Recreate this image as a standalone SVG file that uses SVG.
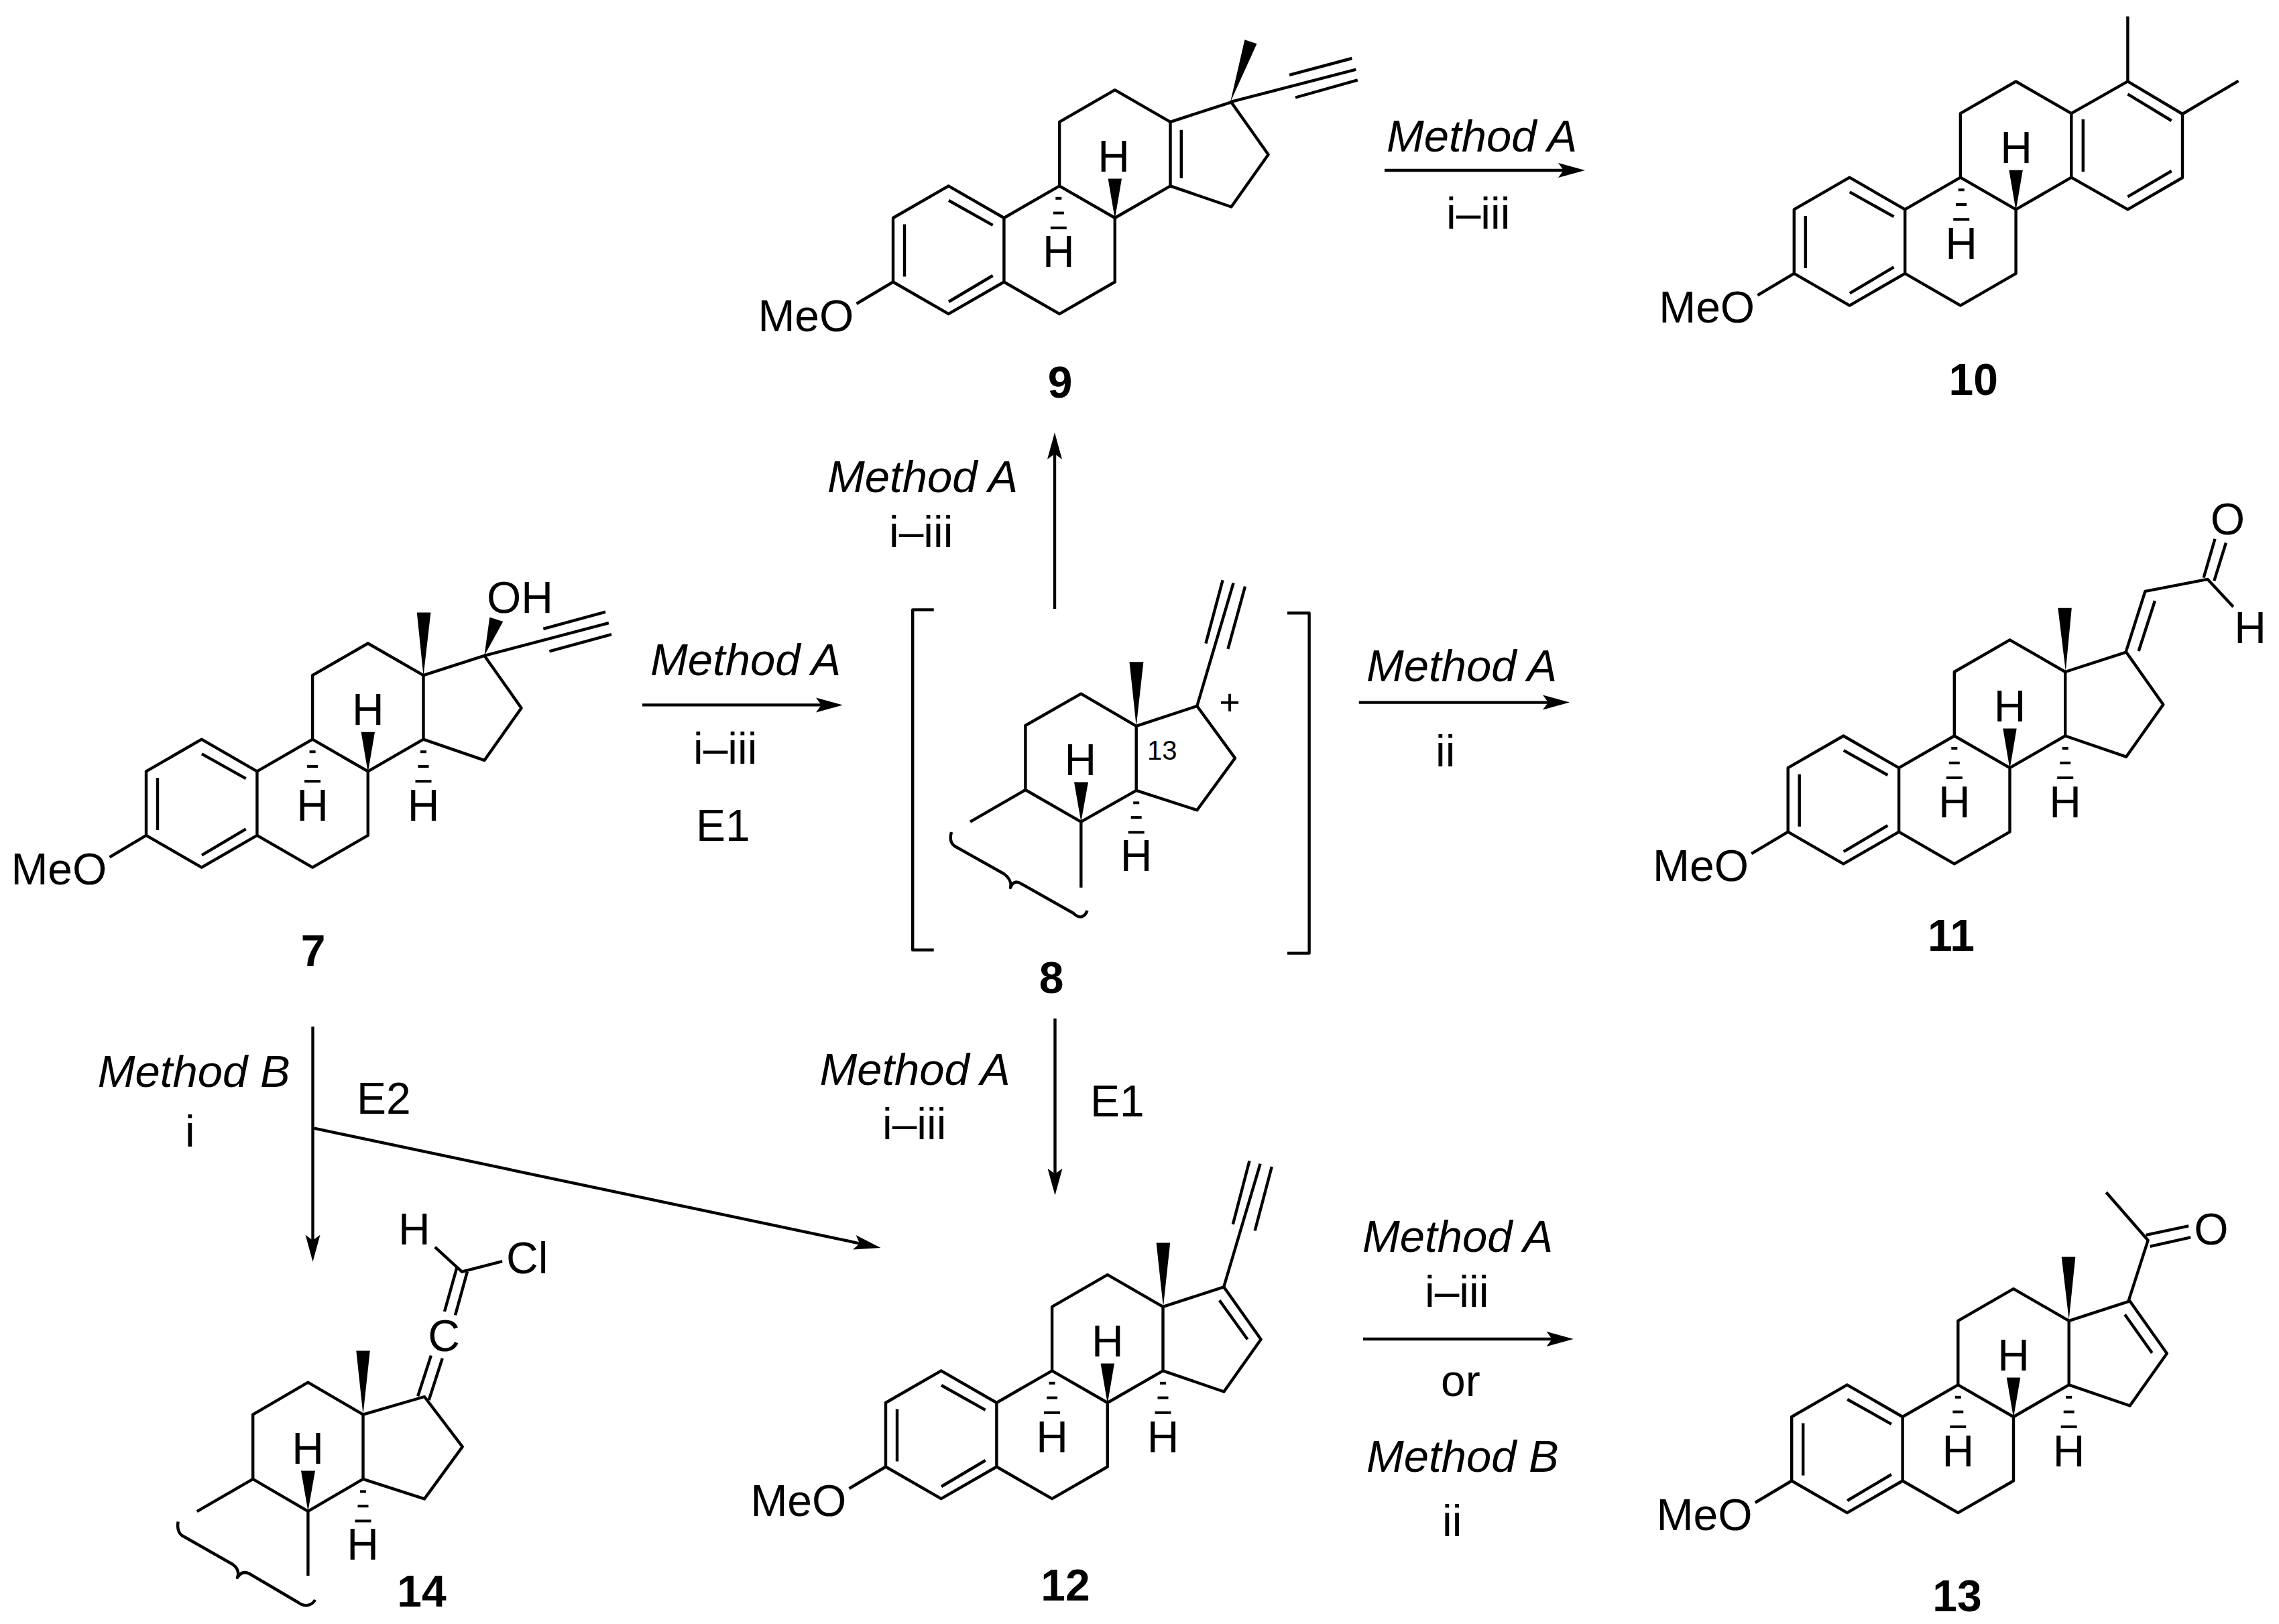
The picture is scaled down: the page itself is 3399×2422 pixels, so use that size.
<svg xmlns="http://www.w3.org/2000/svg" width="3399" height="2422" viewBox="0 0 3399 2422">
<style>
.b{fill:none;stroke:#000;stroke-width:4.4;stroke-linejoin:round}
.k{fill:#000;stroke:none}
.a{fill:none;stroke:#000;stroke-width:4.4}
text{font-family:"Liberation Sans",Arial,sans-serif;font-size:66px;fill:#000}
.m{text-anchor:middle}
.i{font-style:italic;font-size:67px}
.l{font-weight:bold;font-size:66px;text-anchor:middle}
</style>
<defs>
<marker id="head" markerUnits="userSpaceOnUse" markerWidth="46" markerHeight="26" refX="15" refY="13" orient="auto"><path d="M40,13L0,2L8,13L0,24Z" fill="#000"/></marker>
<g id="hash" class="k"><rect x="-4.5" y="16.5" width="9" height="4"/><rect x="-8" y="38.3" width="16" height="4"/><rect x="-12" y="60.5" width="24" height="4"/></g>
<path id="abc" class="b" d="M0,0V95.5L82.7,143.2L165.4,95.5V0L82.7,-47.7ZM165.4,95.5L248.1,143.2L330.8,95.5V0L248.1,-47.7L165.4,0M248.1,-47.7V-143.2L330.8,-190.9L413.5,-143.2V-47.7L330.8,0M0,95.5L-54.5,128M17,9.6V87.6M83,-26L148.7,10.8M83,125L148.7,86"/>
<polygon id="wedgeH" class="k" points="330.8,1.5 320.6,-58.6 341,-58.6"/>
<path id="dring" class="b" d="M413.5,-143.2L504.4,-172.6L559.6,-94.5L504.4,-16.5L413.5,-47.7"/>
</defs>
<g id="compound-7">
<use href="#abc" x="218" y="1150.4"/><use href="#wedgeH" x="218" y="1150.4"/><use href="#dring" x="218" y="1150.4"/>
<use href="#hash" x="466.1" y="1102.7"/><use href="#hash" x="631.5" y="1102.7"/>
<polygon class="k" points="631.5,1008 621.8,913.6 642.4,913.6"/>
<polygon class="k" points="722.4,977.8 730.3,920.6 750.3,927"/>
<path class="b" d="M722.4,977.8L907.9,929.2M810.3,937.9L903,912.7M819.4,971.3L912,946.1"/>
<text x="16.4" y="1319">MeO</text><text x="726" y="913.6">OH</text>
<text class="m" x="548.8" y="1081">H</text><text class="m" x="466.1" y="1224">H</text><text class="m" x="631.5" y="1224">H</text>
<text class="l" x="467" y="1441">7</text>
</g>
<g id="compound-8">
<path class="b" d="M1529.4,1082L1612.3,1034.7L1694.7,1082.9V1178.8L1612.3,1225.7L1529.4,1178ZM1694.7,1082.9L1785.3,1053L1842,1130.6L1785.3,1208.2L1694.7,1178.8M1529.4,1178L1447,1225.7M1612.3,1225.7V1323.7"/>
<path class="b" d="M1785.3,1053L1839.6,869.4M1798.4,959.6L1823.6,865.3M1831.4,967.8L1857,874.7"/>
<polygon class="k" points="1694.7,1082.9 1684.5,987.3 1705.4,987.3"/>
<polygon class="k" points="1612.3,1225.7 1602,1166.5 1623,1166.5"/>
<use href="#hash" x="1694.7" y="1178.8"/>
<path class="b" d="M1419,1241C1416,1252 1418,1258 1424,1262L1497,1303C1505,1309 1509,1315 1507,1324C1510,1316 1515,1313 1523,1318L1601,1362C1610,1371 1618,1368 1621.5,1358"/>
<path class="b" d="M1392.7,909.4H1361.2V1416.7H1392.7M1920,914.3H1952.6V1421.6H1920"/>
<text class="m" x="1611.3" y="1155.5">H</text><text class="m" x="1694.7" y="1299.2">H</text>
<text class="m" x="1834" y="1066" style="font-size:54px">+</text>
<text x="1711" y="1132.7" style="font-size:40px">13</text>
<text class="l" x="1568.2" y="1481">8</text>
</g>
<g id="compound-9">
<use href="#abc" x="1332" y="325"/><use href="#wedgeH" x="1332" y="325"/><use href="#dring" x="1332" y="325"/>
<use href="#hash" x="1578.8" y="277.3"/>
<polygon class="k" points="1835,152.2 1856.4,59.3 1874.5,65.2"/>
<path class="b" d="M1761.8,193.8V265.7M1835,152.2L2022.4,103.6M1923,111.9L2016.4,87M1932,145.5L2024.8,119.4"/>
<text x="1130.4" y="493.6">MeO</text>
<text class="m" x="1661" y="255.6">H</text><text class="m" x="1578.8" y="398">H</text>
<text class="l" x="1581" y="593">9</text>
</g>
<g id="compound-10">
<use href="#abc" x="2675.8" y="312.4"/><use href="#wedgeH" x="2675.8" y="312.4"/>
<use href="#hash" x="2925.2" y="264.7"/>
<path class="b" d="M3089.3,169.2L3173.4,121.4L3255,170V265L3173.4,312.4L3089.3,264.7M3173.4,121.4V24.5M3255,170L3338.6,120.6M3106.8,178V256M3173.4,140.4L3238.7,180M3173.4,293.4L3238.7,255"/>
<text x="2474.2" y="481">MeO</text>
<text class="m" x="3007" y="243">H</text><text class="m" x="2925.2" y="386">H</text>
<text class="l" x="2943.3" y="589">10</text>
</g>
<g id="compound-11">
<use href="#abc" x="2666.7" y="1145.2"/><use href="#wedgeH" x="2666.7" y="1145.2"/><use href="#dring" x="2666.7" y="1145.2"/>
<use href="#hash" x="2914.8" y="1097.5"/><use href="#hash" x="3080.2" y="1097.5"/>
<polygon class="k" points="3080.8,1001 3069.3,906.8 3089.8,906.8"/>
<path class="b" d="M3170.3,973.3L3199.4,881.8L3292.6,863.9L3330.8,905M3189.7,971L3213.9,896M3286.6,861.7L3303.5,803.7M3302.3,866.2L3319.9,809.5"/>
<text x="2465.1" y="1313.8">MeO</text>
<text class="m" x="3322.3" y="797">O</text><text class="m" x="3356" y="959">H</text>
<text class="m" x="2997.5" y="1075.8">H</text><text class="m" x="2914.8" y="1218.8">H</text><text class="m" x="3080.2" y="1218.8">H</text>
<text class="l" x="2910" y="1417.5">11</text>
</g>
<g id="compound-12">
<use href="#abc" x="1321" y="2092"/><use href="#wedgeH" x="1321" y="2092"/><use href="#dring" x="1321" y="2092"/>
<use href="#hash" x="1569.1" y="2044.3"/><use href="#hash" x="1734.5" y="2044.3"/>
<polygon class="k" points="1734.9,1949.2 1724.6,1853.4 1745.2,1853.4"/>
<path class="b" d="M1825,1920L1879.6,1735.7M1838.8,1826L1863.5,1731.2M1871.6,1835.5L1896.8,1740M1818.7,1939.3L1860.6,1997.5"/>
<text x="1119.4" y="2260.6">MeO</text>
<text class="m" x="1651.8" y="2022.6">H</text><text class="m" x="1569.1" y="2165.6">H</text><text class="m" x="1734.5" y="2165.6">H</text>
<text class="l" x="1589" y="2387">12</text>
</g>
<g id="compound-13">
<use href="#abc" x="2672.2" y="2113"/><use href="#wedgeH" x="2672.2" y="2113"/><use href="#dring" x="2672.2" y="2113"/>
<use href="#hash" x="2920.3" y="2065.3"/><use href="#hash" x="3085.7" y="2065.3"/>
<polygon class="k" points="3085.7,1968.4 3074.7,1874.4 3095.3,1874.4"/>
<path class="b" d="M3169.1,1960.4L3209.7,2017.7M3174.6,1940.2L3203.6,1849.8L3141.3,1778.2M3200.6,1841.8L3264.2,1828.3M3206.7,1858.8L3267.2,1845.3"/>
<text x="2470.6" y="2281.6">MeO</text>
<text class="m" x="3298" y="1855.6">O</text>
<text class="m" x="3003" y="2043.6">H</text><text class="m" x="2920.3" y="2186.6">H</text><text class="m" x="3085.7" y="2186.6">H</text>
<text class="l" x="2919" y="2402.6">13</text>
</g>
<g id="compound-14">
<path class="b" d="M377.2,2109.6L459.4,2061.7L541.5,2109.6V2205.9L459.4,2253.8L377.2,2205.9ZM541.5,2109.6L633,2083L689.7,2157.6L633,2235.4L541.5,2205.9M377.2,2205.9L293.8,2254.2M459.4,2253.8V2350"/>
<path class="b" d="M623.2,2082.2L642.9,2021.6M639.7,2088L659.8,2025.7M663,1956L681.3,1890.6M679,1961.4L696.9,1896.7M648.7,1859.9L688.9,1896.7L749.1,1881.1"/>
<polygon class="k" points="541.5,2109.6 531.3,2014.6 551.8,2014.6"/>
<polygon class="k" points="459.4,2253.8 449,2193.6 470,2193.6"/>
<use href="#hash" x="541.5" y="2205.9"/>
<path class="b" d="M265.6,2269.4C264,2280 266,2286 271.4,2290L347,2333C354,2338 357,2345 354,2353C358,2346 364,2343 372,2347L445,2390C454,2397 465,2395 470,2386"/>
<text class="m" x="662" y="2014.6">C</text>
<text class="m" x="617.9" y="1855.8">H</text><text x="755" y="1898.8">Cl</text>
<text class="m" x="459" y="2183.4">H</text><text class="m" x="541" y="2325.9">H</text>
<text class="l" x="629" y="2395.5">14</text>
</g>
<g id="connectors">
<path class="a" marker-end="url(#head)" d="M958,1051.4H1232"/>
<path class="a" marker-end="url(#head)" d="M1573,908V670"/>
<path class="a" marker-end="url(#head)" d="M2065,254H2339"/>
<path class="a" marker-end="url(#head)" d="M2026.7,1047.6H2316"/>
<path class="a" marker-end="url(#head)" d="M1573.5,1519V1757.7"/>
<path class="a" marker-end="url(#head)" d="M466.5,1531V1856.7"/>
<path class="a" marker-end="url(#head)" d="M468.4,1682.7L1289,1855.9"/>
<path class="a" marker-end="url(#head)" d="M2033,1997H2321.7"/>
</g>
<g id="labels">
<text class="i" x="970" y="1007.3">Method A</text><text x="1034" y="1138.8">i–iii</text><text x="1038" y="1253.5">E1</text>
<text class="i" x="1234" y="733.9">Method A</text><text x="1326" y="815.5">i–iii</text>
<text class="i" x="2068" y="225.8">Method A</text><text x="2157" y="341">i–iii</text>
<text class="i" x="2038" y="1015.5">Method A</text><text x="2141" y="1142.7">ii</text>
<text class="i" x="145.8" y="1620.7">Method B</text><text x="276" y="1710">i</text><text x="532" y="1660.7">E2</text>
<text class="i" x="1222.4" y="1618.3">Method A</text><text x="1316" y="1699.3">i–iii</text><text x="1626" y="1665">E1</text>
<text class="i" x="2032" y="1866.8">Method A</text><text x="2125" y="1948.6">i–iii</text><text x="2149" y="2081.8">or</text>
<text class="i" x="2038" y="2195.4">Method B</text><text x="2151" y="2291.4">ii</text>
</g>
</svg>
